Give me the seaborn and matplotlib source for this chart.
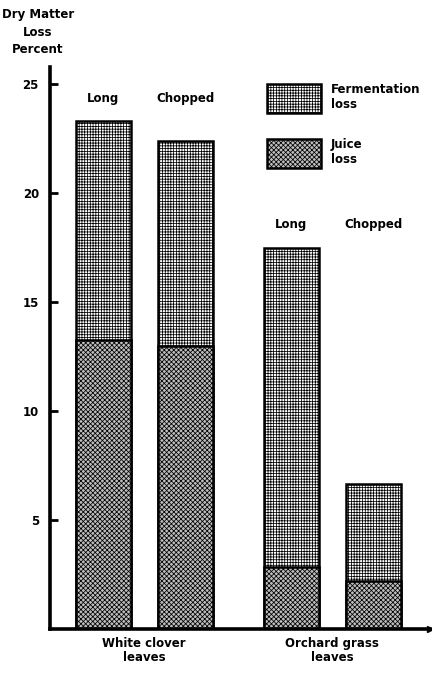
import matplotlib
matplotlib.use("Agg")
import matplotlib.pyplot as plt
import seaborn as sns
import pandas as pd
from matplotlib.patches import Patch

# ---- data ----
groups = ["White clover\nleaves", "Orchard grass\nleaves"]
methods = ["Long", "Chopped"]
total_loss = [23.3, 22.4, 17.5, 6.65]      # fermentation + juice
juice_loss = [13.25, 13.0, 2.85, 2.2]
yticks = [5, 10, 15, 20, 25]
legend_labels = ["Fermentation\nloss", "Juice\nloss"]
ylabel = "Dry Matter\nLoss\nPercent"

df = pd.DataFrame({
    "group": [g for g in groups for _ in methods],
    "method": methods * 2,
    "total": total_loss,
    "juice": juice_loss,
})

sns.set_style("white")
plt.rcParams["font.family"] = ["DejaVu Sans"]
plt.rcParams["font.weight"] = "bold"
plt.rcParams["text.color"] = "black"
plt.rcParams["xtick.color"] = "black"
plt.rcParams["ytick.color"] = "black"
plt.rcParams["hatch.linewidth"] = 0.55

FERM_HATCH = "++++++"
JUICE_HATCH = "xxxxxxx"
JUICE_FACE = "#bdbdbd"

fig = plt.figure(figsize=(4.32, 6.74), dpi=100)
ax = fig.add_axes([50 / 432, 45 / 674, 380 / 432, (629 - 67) / 674])

common = dict(data=df, x="group", hue="method", dodge=True, width=0.872,
              gap=0.33, palette=["white", "white"], edgecolor="black",
              linewidth=1.8, legend=False, ax=ax, saturation=1)
sns.barplot(y="total", **common)
n_total = len(ax.patches)
sns.barplot(y="juice", **common)

for i, p in enumerate(ax.patches):
    if i < n_total:
        p.set_hatch(FERM_HATCH)
        p.set_facecolor("white")
    else:
        p.set_hatch(JUICE_HATCH)
        p.set_facecolor(JUICE_FACE)

# method labels above bars, at a common height per group
tot_patches = ax.patches[:n_total]
for gi in range(len(groups)):
    gp = [p for p in tot_patches if abs((p.get_x() + p.get_width() / 2) - gi) < 0.5]
    top = max(p.get_height() for p in gp)
    gp.sort(key=lambda p: p.get_x())
    for p, m in zip(gp, methods):
        ax.text(p.get_x() + p.get_width() / 2, top + 1.05, m, ha="center",
                va="center", fontsize=8.5, fontweight="bold", color="black")

ax.set_xlim(-0.5, 1.52)
ax.set_ylim(0, 25.8)
ax.set_yticks(yticks)
ax.set_yticklabels([str(t) for t in yticks], fontsize=8.5, fontweight="bold")
ax.tick_params(axis="y", direction="in", length=6, width=2, pad=8, left=True)
ax.tick_params(axis="x", length=0, pad=6)
for lab in ax.get_xticklabels():
    lab.set_fontsize(8.5)
    lab.set_fontweight("bold")
    lab.set_linespacing(1.1)
ax.set_xlabel("")
ax.set_ylabel("")
sns.despine(ax=ax)
for s in ("left", "bottom"):
    ax.spines[s].set_linewidth(2.6)
    ax.spines[s].set_color("black")
ax.plot([1.0], [0], marker=">", color="black", markersize=5,
        transform=ax.transAxes, clip_on=False)

handles = [Patch(facecolor="white", edgecolor="black", hatch=FERM_HATCH, linewidth=1.8),
           Patch(facecolor=JUICE_FACE, edgecolor="black", hatch=JUICE_HATCH, linewidth=1.8)]
leg = ax.legend(handles, legend_labels, loc="upper left",
                bbox_to_anchor=(0.546, 0.989), frameon=False, fontsize=8.5,
                handlelength=4.6, handleheight=3.4, handletextpad=0.8,
                labelspacing=2.13, borderpad=0.3)
for t in leg.get_texts():
    t.set_fontweight("bold")
    t.set_color("black")

fig.text(38 / 432, 1 - 8 / 674, ylabel, ha="center", va="top", fontsize=8.5,
         fontweight="bold", linespacing=1.45, color="black")

fig.savefig("out.png", dpi=100)
